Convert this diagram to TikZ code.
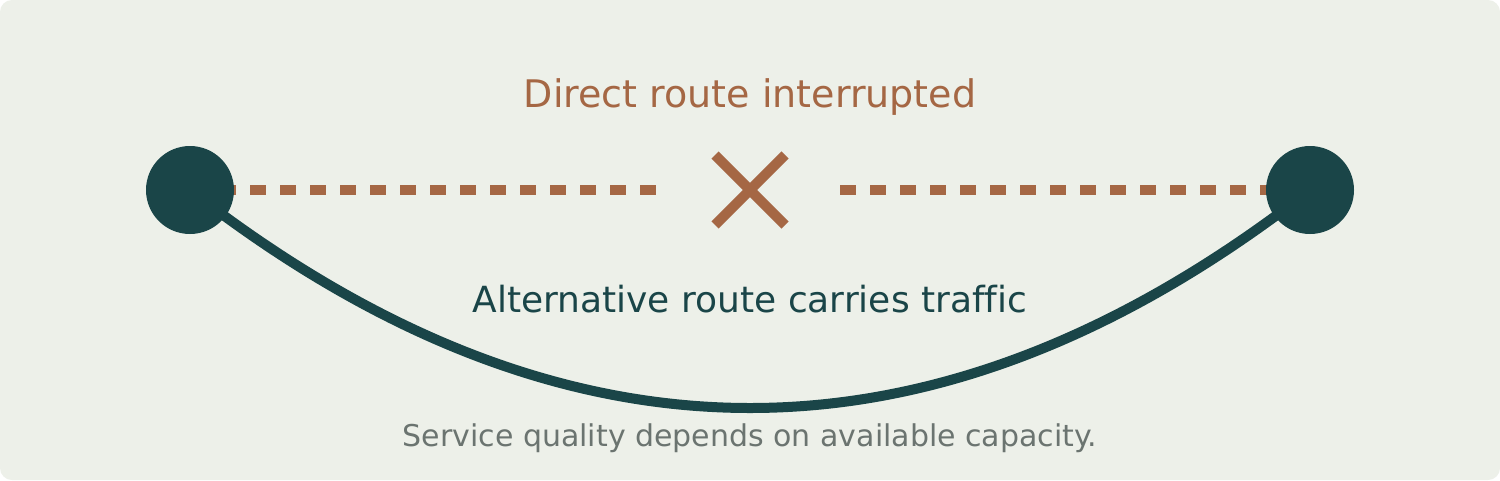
\documentclass[tikz,border=0pt]{standalone}
\usepackage{fontspec}
\setmainfont[Ligatures=NoCommon]{DejaVu Sans}
\usetikzlibrary{calc}
\definecolor{bgc}{HTML}{EDF0E9}
\definecolor{teal}{HTML}{1A4548}
\definecolor{rust}{HTML}{A56744}
\definecolor{muted}{HTML}{6B7470}
\pgfdeclarelayer{bglayer}
\pgfdeclarelayer{linelayer}
\pgfsetlayers{bglayer,linelayer,main}
\tikzset{
  endpoint/.style={circle, fill=teal, minimum size=88pt, inner sep=0pt, draw=none},
  cutline/.style={draw=rust, line width=10pt, dash pattern=on 16pt off 14pt},
  altline/.style={draw=teal, line width=10pt},
  crossline/.style={draw=rust, line width=10pt},
  title/.style={anchor=base, text=rust, font=\fontsize{38}{46}\selectfont, inner sep=0pt},
  altlabel/.style={anchor=base, text=teal, font=\fontsize{36}{44}\selectfont, inner sep=0pt},
  note/.style={anchor=base, text=muted, font=\fontsize{30}{36}\selectfont, inner sep=0pt}
}
\begin{document}
\begin{tikzpicture}[x=1pt,y=-1pt]
\useasboundingbox (0,0) rectangle (1500,480);
\begin{pgfonlayer}{bglayer}
\fill[white] (0,0) rectangle (1500,480);
\fill[bgc, rounded corners=12pt] (0,0) rectangle (1500,480);
\end{pgfonlayer}
\node[endpoint] (L) at (190,190) {};
\node[endpoint] (R) at (1310,190) {};
\coordinate (leftEnd) at (656,190);
\coordinate (rightStart) at (840,190);
\begin{pgfonlayer}{linelayer}
\draw[cutline] (L.center) -- (leftEnd);
\draw[cutline] (rightStart) -- (R.center);
\draw[altline] (L.center) .. controls (563.33,480.67) and (936.67,480.67) .. (R.center);
\end{pgfonlayer}
\coordinate (X) at (750,190);
\draw[crossline] ($(X)+(-35,-35)$) -- ($(X)+(35,35)$);
\draw[crossline] ($(X)+(-35,35)$) -- ($(X)+(35,-35)$);
\node[title] (t1) at (750,107) {Direct route interrupted};
\node[altlabel] (t2) at (750,312) {Alternative route carries traffic};
\node[note] (t3) at (750,446) {Service quality depends on available capacity.};
\end{tikzpicture}
\end{document}
